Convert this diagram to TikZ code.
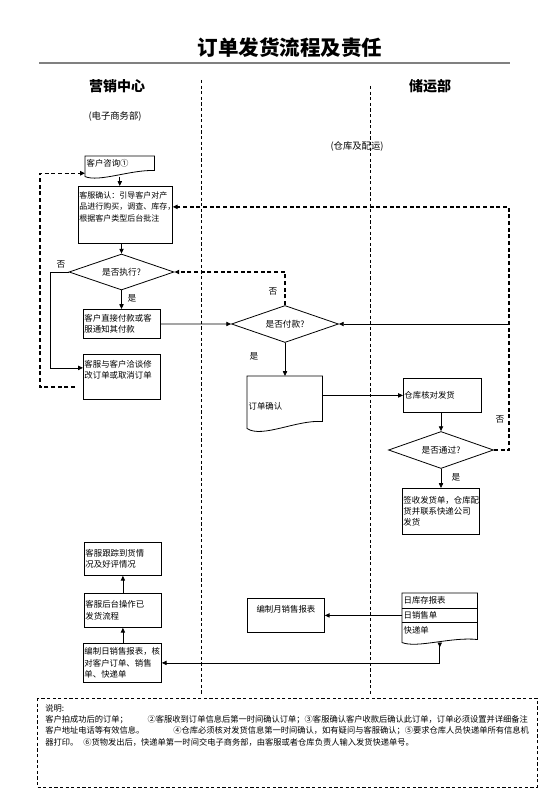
\documentclass[tikz,border=0pt]{standalone}
\usepackage{fontspec}
\setmainfont{Noto Sans CJK SC}
\usepackage{tikz}
\usetikzlibrary{positioning,shapes.geometric,arrows.meta,calc}

\begin{document}
\begin{tikzpicture}[x=0.75pt, y=-0.75pt,
    font=\fontsize{6.3}{8.5}\selectfont,
    box/.style={rectangle, draw, line width=0.6pt, anchor=north west, align=left, inner xsep=0.8pt, inner ysep=0pt},
    docbox/.style={rectangle, anchor=north west, align=left, inner xsep=1pt, inner ysep=0pt},
    decision/.style={diamond, draw, line width=0.6pt, aspect=3, inner sep=0pt, font=\fontsize{6.5}{7}\selectfont},
    arrow/.style={-{Triangle[length=3.6pt,width=3.2pt]}, line width=0.6pt},
    loopback/.style={-{Triangle[length=3.6pt,width=3.2pt]}, line width=0.9pt, dash pattern=on 3pt off 2pt},
    lane/.style={line width=0.6pt, dash pattern=on 2.4pt off 1.8pt},
    tag/.style={font=\fontsize{6.5}{7}\selectfont}]

    \useasboundingbox (0,0) rectangle (560,792);

    % Title
    \node[font=\fontsize{15.4}{16}\selectfont\bfseries] (title) at (290,48) {订单发货流程及责任};
    \draw[black!50, line width=1pt] (39,63) -- (510,63);

    % Lanes
    \node[font=\fontsize{10.5}{11}\selectfont\bfseries] (market) at (117,86) {营销中心};
    \node[font=\fontsize{10.5}{11}\selectfont\bfseries] (storage) at (430,86) {储运部};
    \node[font=\fontsize{7}{8}\selectfont] (ecom) at (115,116) {(电子商务部)};
    \node[font=\fontsize{7}{8}\selectfont] (wareh) at (357,146) {(仓库及配运)};
    \draw[lane] (201,80) -- (201,695);
    \draw[lane] (370,86) -- (370,695);

    % 营销中心
    \node[docbox, minimum width=51.75pt, minimum height=15pt, text width=49.75pt, text height=5pt, text depth=5pt] (consult) at (85,156) {客户咨询①};
    \node[box, font=\fontsize{6}{8.5}\selectfont, minimum width=70.5pt, minimum height=42.75pt, text width=68.9pt, text height=5pt, text depth=29.5pt] (ask) at (78,186) {客服确认：引导客户对产\\品进行购买，调查、库存，\\根据客户类型后台批注};
    \node[decision, minimum width=78.75pt, minimum height=27pt] (exec) at (121.5,272) {是否执行?};
    \node[box, minimum width=57.75pt, minimum height=21.75pt, text width=56.15pt] (pay) at (83,309) {客户直接付款或客\\服通知其付款};
    \node[box, minimum width=57.75pt, minimum height=33.75pt, text width=56.15pt, text height=5pt, text depth=19.2pt] (talk) at (83,354) {客服与客户洽谈修\\改订单或取消订单};

    % 订单确认
    \node[decision, minimum width=80.25pt, minimum height=27.75pt] (paid) at (285,324) {是否付款?};
    \node[docbox, minimum width=56.25pt, minimum height=39pt, text width=54.25pt, text height=12pt, text depth=1.5pt] (confirm) at (247,376) {订单确认};

    % 储运部
    \node[box, minimum width=58.5pt, minimum height=25.5pt, text width=56.9pt] (check) at (403,378) {仓库核对发货};
    \node[decision, minimum width=78.75pt, minimum height=27.75pt] (pass) at (441,450) {是否通过?};
    \node[box, minimum width=57.75pt, minimum height=34.5pt, text width=56.15pt] (ship) at (402,488) {签收发货单，仓库配\\货并联系快递公司\\发货};

    % 报表
    \node[box, minimum width=57.75pt, minimum height=24.75pt, text width=56.15pt] (track) at (84,542) {客服跟踪到货情\\况及好评情况};
    \node[box, minimum width=57.75pt, minimum height=25.5pt, text width=56.15pt] (back) at (84,593) {客服后台操作已\\发货流程};
    \node[box, minimum width=58.5pt, minimum height=29.25pt, text width=56.9pt] (daily) at (83,643) {编制日销售报表，核\\对客户订单、销售\\单、快递单};
    \node[box, align=center, minimum width=57.75pt, minimum height=25.5pt, text width=56.15pt, text height=5pt, text depth=9.3pt] (monthly) at (247,598) {编制月销售报表};
    \node[docbox, font=\fontsize{6.3}{11.25}\selectfont, minimum width=56.25pt, minimum height=36.75pt, text width=54.25pt, text height=5pt, text depth=26.75pt] (reports) at (402,593) {日库存报表\\日销售单\\快递单};

    % Document outlines
    \draw[line width=0.6pt] (consult.north west) -- (consult.north east) -- ($(consult.south east)+(0,-6)$)
        .. controls ($(consult.south west)!0.66!(consult.south east)+(0,-7)$) and ($(consult.south west)!0.2!(consult.south east)+(0,6)$) .. (consult.south west) -- cycle;
    \draw[line width=0.6pt] (confirm.north west) -- (confirm.north east) -- ($(confirm.south east)+(0,-7)$)
        .. controls ($(confirm.south west)!0.66!(confirm.south east)+(0,-9)$) and ($(confirm.south west)!0.2!(confirm.south east)+(0,10)$) .. (confirm.south west) -- cycle;
    \draw[line width=0.6pt] (reports.north west) -- (reports.north east) -- ($(reports.south east)+(0,-3)$)
        .. controls ($(reports.south west)!0.66!(reports.south east)+(0,-6)$) and ($(reports.south west)!0.2!(reports.south east)+(0,6)$) .. (reports.south west) -- cycle;
    \draw[line width=0.6pt] ($(reports.north west)+(0,15)$) -- ($(reports.north east)+(0,15)$);
    \draw[line width=0.6pt] ($(reports.north west)+(0,29)$) -- ($(reports.north east)+(0,29)$);

    % Connectors
    \draw[arrow] (consult.south) -- (consult.south |- ask.north);
    \draw[arrow] (exec.north |- ask.south) -- (exec.north);
    \draw[arrow] (exec.south) -- (exec.south |- pay.north);
    \node[tag] (yes1) at (132,298) {是};
    \draw[arrow] (exec.west) -- ++(-18,0) |- ($(talk.west)+(0,-9)$);
    \node[tag] (no1) at (61,264) {否};
    \draw[loopback] ($(talk.west)+(-8,10)$) -- ++(-35,0) |- ($(consult.west)+(0,7)$);
    \draw[arrow] (pay.east) -- (paid.west);
    \draw[loopback] (paid.north) |- (exec.east);
    \node[tag] (no2) at (273,291) {否};
    \draw[arrow] (paid.south) -- (paid.south |- confirm.north);
    \node[tag] (yes2) at (254,356) {是};
    \draw[arrow] (confirm.east |- check.west) -- (check.west);
    \draw[arrow] (pass.north |- check.south) -- (pass.north);
    \draw[loopback] (pass.east) -- ++(15,0) |- ($(ask.east)+(0,-8)$);
    \node[tag] (no3) at (500,419) {否};
    \coordinate (rejoin) at (508.5,324);
    \draw[arrow] (rejoin) -- (paid.east);
    \draw[arrow] (pass.south) -- (pass.south |- ship.north);
    \node[tag] (yes3) at (456,477) {是};
    \draw[arrow] (back.north |- daily.north) -- (back.south);
    \draw[arrow] (back.north) -- (back.north |- track.south);
    \draw[arrow] (monthly.east -| reports.west) -- (monthly.east);
    \draw[{Triangle[reversed,length=3.6pt,width=3.2pt]}-{Triangle[length=3.6pt,width=3.2pt]}, line width=0.6pt] (reports.south) |- (daily.east);

    % Notes
    \draw[lane] (37,698) rectangle (537,787);
    \node[anchor=north west, align=left, inner sep=0pt, font=\fontsize{6.2}{8.5}\selectfont] (notes) at (45,704) {说明:\\
        \makebox[362pt][s]{客户拍成功后的订单；\hfill②客服收到订单信息后第一时间确认订单；③客服确认客户收款后确认此订单，订单必须设置并详细备注}\\
        \makebox[362pt][s]{客户地址电话等有效信息。\hspace{3.5em}④仓库必须核对发货信息第一时间确认，如有疑问与客服确认；\hfill⑤要求仓库人员快递单所有信息机}\\
        器打印。\hspace{0.6em}⑥货物发出后，快递单第一时间交电子商务部，由客服或者仓库负责人输入发货快递单号。};
\end{tikzpicture}
\end{document}
